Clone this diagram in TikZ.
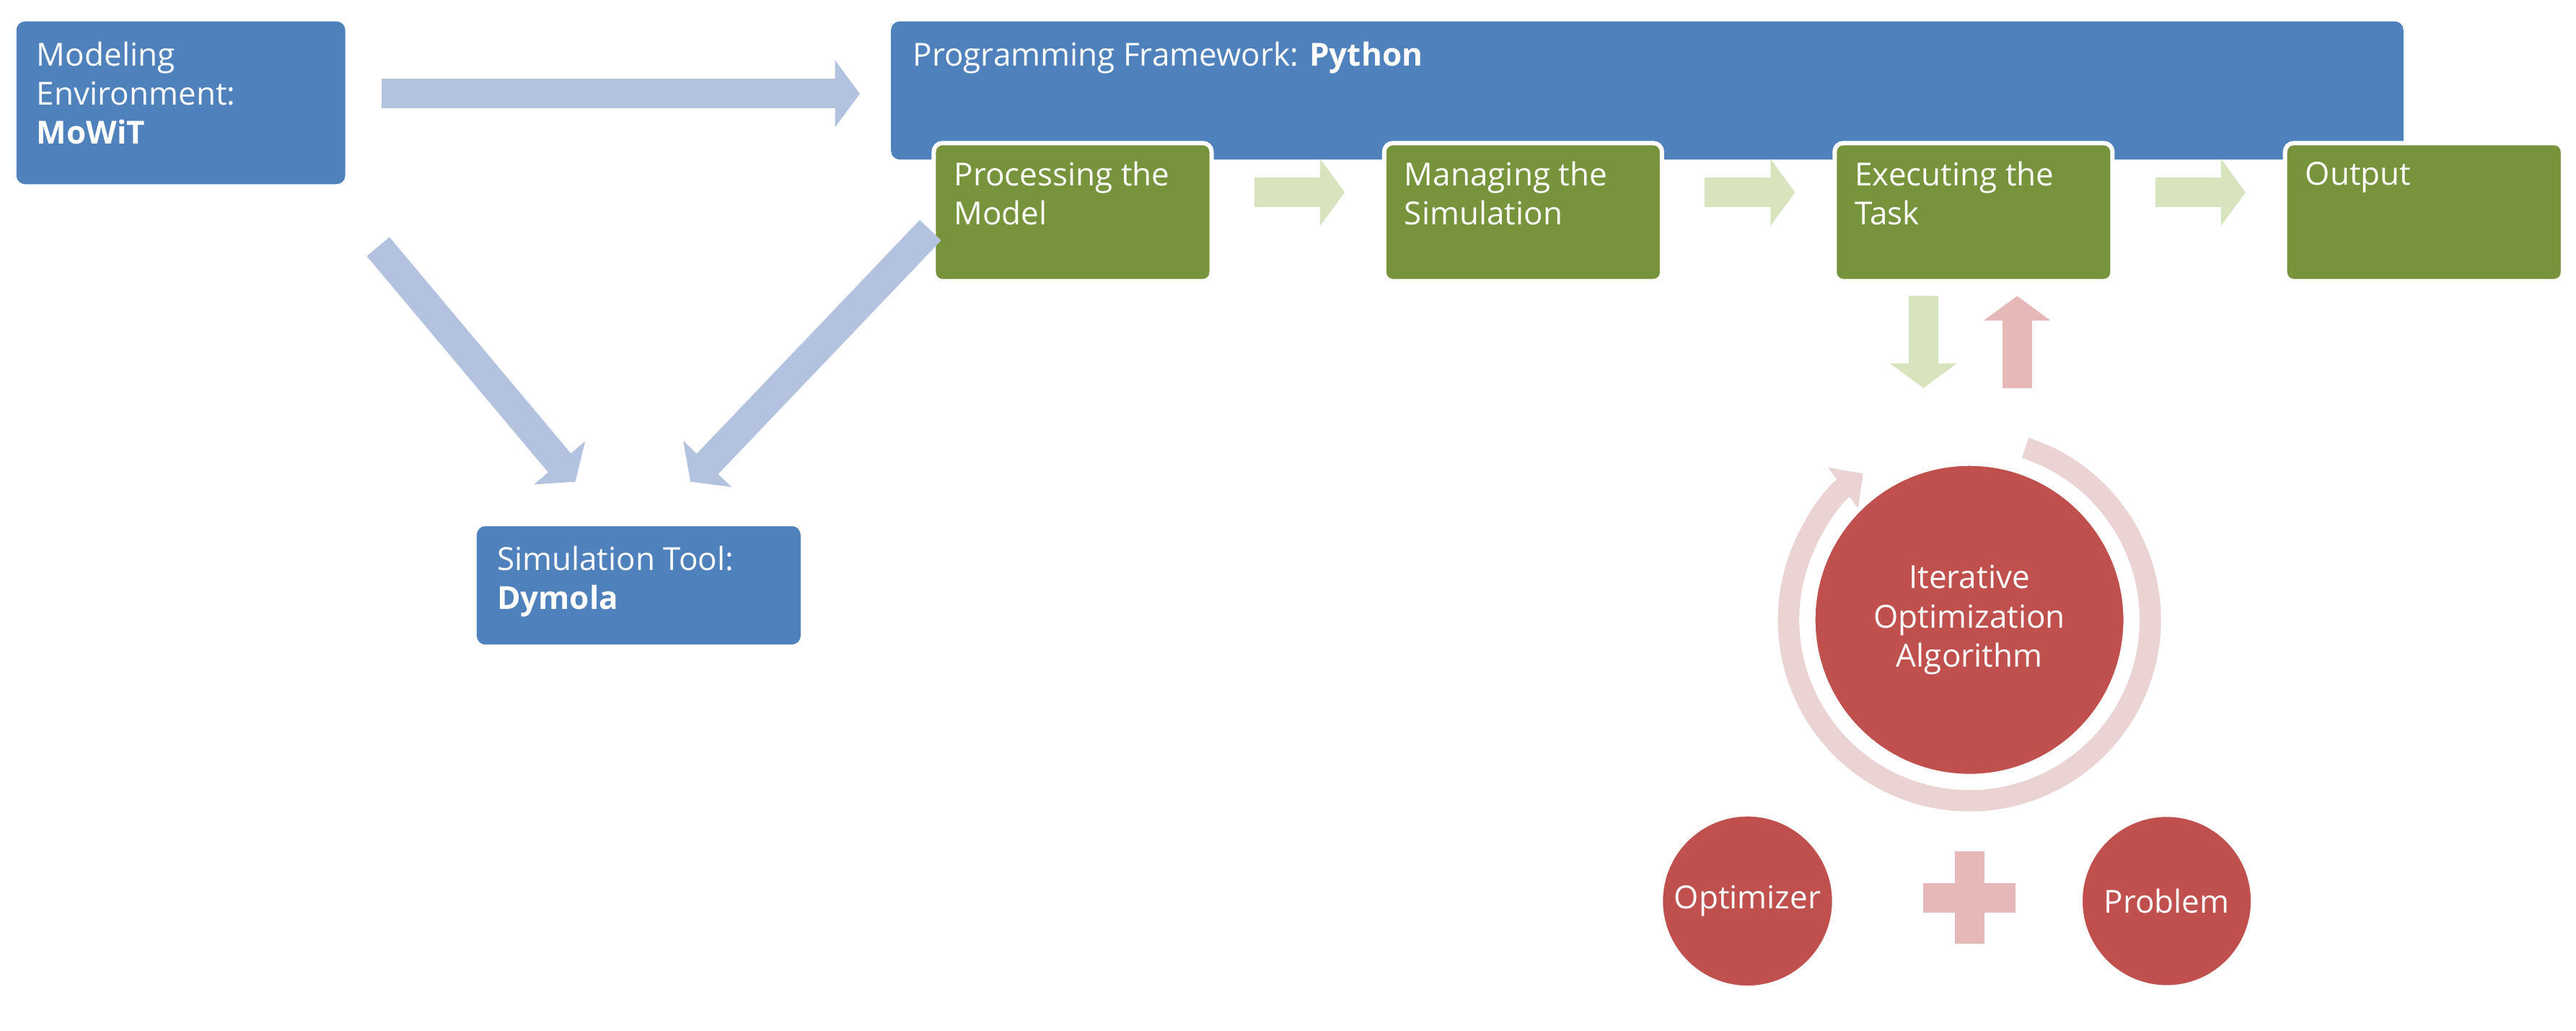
\documentclass[tikz,border=0pt]{standalone}
\usepackage{fontspec}
\setmainfont{Open Sans}
\usetikzlibrary{arrows.meta}
\definecolor{bblue}{HTML}{4F81BD}
\definecolor{lblue}{HTML}{B3C3DF}
\definecolor{bgreen}{HTML}{77933C}
\definecolor{lgreen}{HTML}{D7E4BD}
\definecolor{bred}{HTML}{C0504D}
\definecolor{lred}{HTML}{E6B9B8}
\definecolor{ring}{HTML}{EBD3D3}
\begin{document}
\begin{tikzpicture}[x=0.02cm,y=-0.02cm,
  txt/.style={font=\fontsize{11}{13.5}\selectfont,text=white,align=left,inner sep=0pt,anchor=north west},
  bbox/.style={fill=bblue,rounded corners=3pt},
  gbox/.style={fill=bgreen,draw=white,line width=1.5pt,rounded corners=3pt},
  barr/.style={line width=0.36cm,-{Triangle[width=0.8cm,length=0.3cm]}},
  circ/.style={circle,fill=bred,draw=white,line width=1.5pt,text=white,align=center,font=\fontsize{11}{13.5}\selectfont}]
\useasboundingbox (0,0) rectangle (1567,627);
% boxes
\fill[bbox] (10,13) rectangle (210,112);
\node[txt] (mowit) at (22,25) {Modeling\\Environment:\\\textbf{MoWiT}};
\fill[bbox] (542,13) rectangle (1462,97);
\node[txt] (py) at (555,25) {Programming Framework: \textbf{Python}};
\fill[bbox] (290,320) rectangle (487,392);
\node[txt] (sim) at (302,332) {Simulation Tool:\\\textbf{Dymola}};
\foreach \x/\t [count=\i] in {568/{Processing the\\Model},842/{Managing the\\Simulation},1116/{Executing the\\Task},1390/{Output}}{
  \draw[gbox] (\x,87) rectangle (\x+169,171);
  \node[txt] (g\i) at (\x+12,98) {\t};
}
% blue arrows
\coordinate (a1) at (232,57); \coordinate (a2) at (523,57);
\draw[barr,lblue] (a1) -- (a2);
\coordinate (b1) at (230,150); \coordinate (b2) at (350,293);
\draw[barr,lblue] (b1) -- (b2);
\coordinate (c1) at (566,140); \coordinate (c2) at (420,293);
\draw[barr,lblue] (c1) -- (c2);
% green arrows
\foreach \x in {763,1037,1311}{
  \draw[barr,lgreen] (\x,117) -- (\x+55,117);
}
\draw[barr,lgreen] (1170,180) -- (1170,236);
\draw[barr,lred] (1227,236) -- (1227,180);
% ring
\draw[ring,line width=0.26cm,-{Triangle[width=0.6cm,length=0.3cm]}] (1198,377) ++(-72:110) arc[start angle=-72,end angle=234,radius=110];
\node[circ,minimum size=3.8cm] (ioa) at (1198,377) {Iterative\\Optimization\\Algorithm};
\node[circ,minimum size=2.1cm] (opt) at (1063,548) {Optimizer};
\node[circ,minimum size=2.1cm] (prob) at (1318,548) {Problem};
\fill[lred] (1170,537) rectangle (1226,555);
\fill[lred] (1189,518) rectangle (1207,574);
\end{tikzpicture}
\end{document}
